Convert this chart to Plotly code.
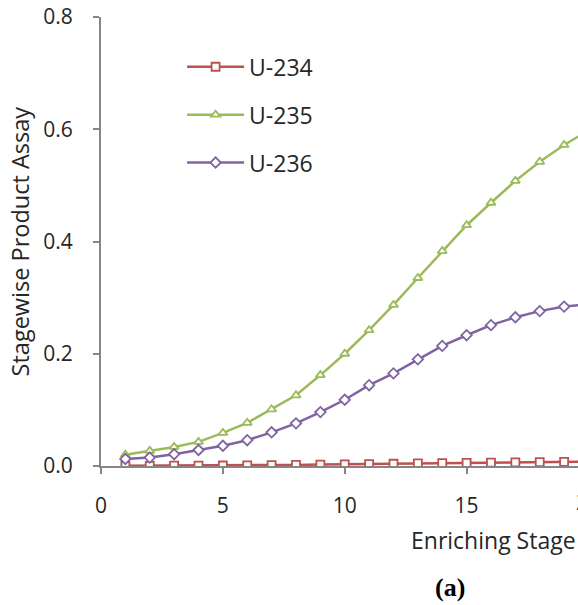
import plotly.graph_objects as go

# Enriching stage numbers and stagewise product assay per isotope
stages = list(range(1, 21))
u234 = [0.0003, 0.0004, 0.0005, 0.0007, 0.0009, 0.0012, 0.0016, 0.002, 0.0025, 0.003,
        0.0035, 0.004, 0.0045, 0.005, 0.0055, 0.006, 0.0065, 0.007, 0.0075, 0.008]
u235 = [0.020, 0.027, 0.034, 0.043, 0.059, 0.077, 0.101, 0.126, 0.162, 0.200,
        0.242, 0.287, 0.335, 0.383, 0.429, 0.469, 0.508, 0.542, 0.572, 0.598]
u236 = [0.0125, 0.015, 0.021, 0.0285, 0.036, 0.046, 0.060, 0.076, 0.096, 0.118,
        0.144, 0.165, 0.190, 0.214, 0.233, 0.251, 0.265, 0.276, 0.284, 0.288]

x_ticks = [0, 5, 10, 15, 20]
y_ticks = [0.0, 0.2, 0.4, 0.6, 0.8]
y_tick_text = ["0.0", "0.2", "0.4", "0.6", "0.8"]

FONT = "Open Sans"
TXT = "#262626"
AXIS = "#868686"

series = [
    ("U-234", u234, "#C0504D", "square"),
    ("U-235", u235, "#9BBB59", "triangle-up"),
    ("U-236", u236, "#8064A2", "diamond"),
]

fig = go.Figure()
for name, vals, color, sym in series:
    fig.add_trace(go.Scatter(
        x=stages, y=vals, name=name, mode="lines+markers",
        legendgroup=name,
        line=dict(color=color, width=2.5),
        marker=dict(symbol=sym, size=8, color="white",
                    line=dict(color=color, width=1.8)),
        cliponaxis=True,
    ))

fig.update_layout(
    width=578, height=605,
    margin=dict(l=101, r=0, t=17, b=139),
    paper_bgcolor="white", plot_bgcolor="white",
    font=dict(family=FONT, size=21, color=TXT),
    showlegend=True,
    legend=dict(
        x=0.17, y=0.937, xanchor="left", yanchor="top",
        bgcolor="rgba(0,0,0,0)", font=dict(size=23, color=TXT),
        tracegroupgap=15, itemwidth=57,
    ),
    xaxis=dict(
        range=[0, 19.57], tickmode="array", tickvals=x_ticks,
        showgrid=False, zeroline=False, showline=True,
        linecolor=AXIS, linewidth=2,
        ticks="outside", ticklen=6, tickwidth=2, tickcolor=AXIS,
        ticklabelstandoff=14, tickfont=dict(size=21, color=TXT),
    ),
    yaxis=dict(
        range=[0, 0.8], tickmode="array", tickvals=y_ticks, ticktext=y_tick_text,
        showgrid=False, zeroline=False, showline=True,
        linecolor=AXIS, linewidth=2,
        ticks="outside", ticklen=6, tickwidth=2, tickcolor=AXIS,
        ticklabelstandoff=16, tickfont=dict(size=21, color=TXT),
    ),
    annotations=[
        dict(text="Stagewise Product Assay", xref="paper", yref="paper",
             x=-0.17, y=0.5, xanchor="center", yanchor="middle",
             textangle=-90, showarrow=False, font=dict(size=23.5, color=TXT)),
        dict(text="Enriching Stage", xref="paper", yref="paper",
             x=(409 - 101) / 477, y=-0.165, xanchor="left", yanchor="middle",
             showarrow=False, font=dict(size=23, color=TXT)),
        dict(text="<b>(a)</b>", xref="paper", yref="paper",
             x=(450 - 101) / 477, y=-0.27, xanchor="center", yanchor="middle",
             showarrow=False,
             font=dict(family="Liberation Serif", size=26, color="#000000")),
        dict(text="20", xref="paper", yref="paper",
             x=(588 - 101) / 477, y=-0.08, xanchor="center", yanchor="middle",
             showarrow=False, font=dict(size=21, color=TXT)),
    ],
)

fig.write_html("out.html")
